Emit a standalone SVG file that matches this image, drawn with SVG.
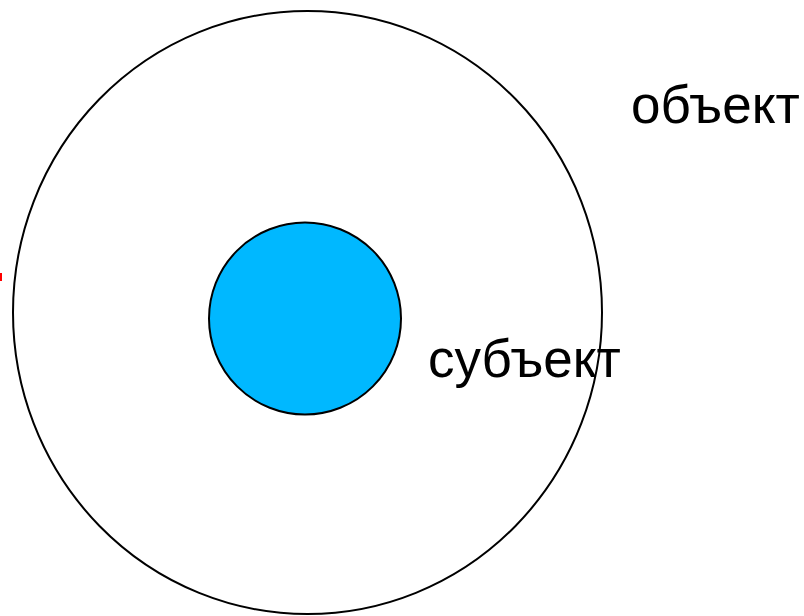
<svg xmlns="http://www.w3.org/2000/svg" width="804" height="616" viewBox="0 0 804 616">
<style>
.lbl{font-family:"Liberation Sans",Arial,sans-serif;font-size:53px;fill:#000}
</style>
<rect width="804" height="616" fill="#fff"/>
<g id="object">
<ellipse cx="307.5" cy="312.5" rx="294.5" ry="301.5" fill="none" stroke="#000" stroke-width="2"/>
<text class="lbl" x="631" y="123">объект</text>
</g>
<g id="subject">
<circle cx="305" cy="318.5" r="96" fill="#00B8FF" stroke="#000" stroke-width="2"/>
<text class="lbl" x="428" y="377" font-size="52">субъект</text>
</g>
<rect x="0" y="273" width="2" height="8" fill="#f00"/>
<g id="connectors"/>
</svg>
